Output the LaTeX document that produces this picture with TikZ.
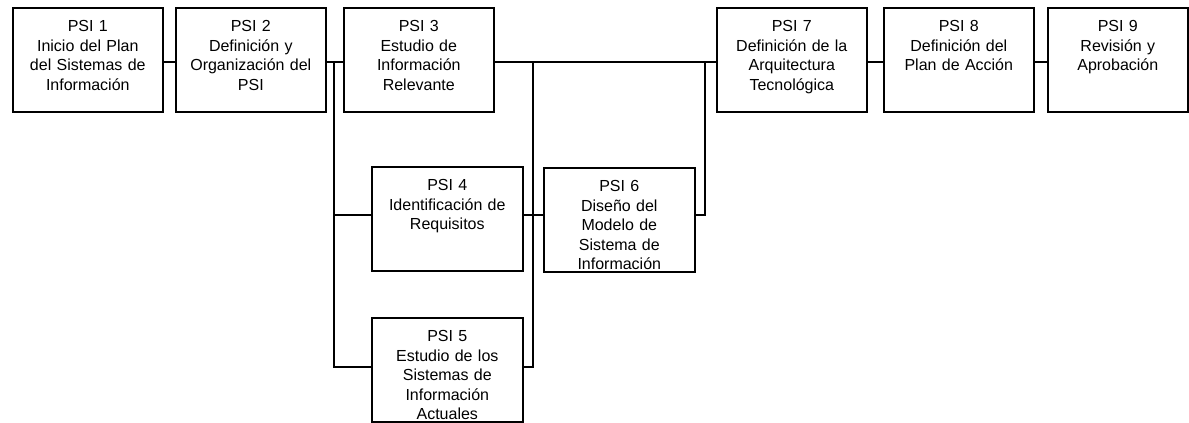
\documentclass[tikz,border=0pt]{standalone}
\usepackage{fontspec}
\setmainfont{Liberation Sans}
\tikzset{
	psibox/.style={draw, line width=1.2pt, anchor=north west, align=center,
		inner sep=0pt, text width=#1*0.75pt, text height=18pt, text depth=60pt,
		font=\fontsize{12pt}{14.6pt}\selectfont},
	psibox/.default=150,
	bus/.style={line width=1.2pt}
}
\begin{document}
\begin{tikzpicture}[x=0.75pt,y=-0.75pt]
	\useasboundingbox (0,0) rectangle (1189,423);
	% top row
	\node[psibox] (p1) at (12,7) {PSI 1\\Inicio del Plan\\del Sistemas de\\Información};
	\node[psibox] (p2) at (175,7) {PSI 2\\Definición y\\Organización del\\PSI};
	\node[psibox] (p3) at (343,7) {PSI 3\\Estudio de\\Información\\Relevante};
	\node[psibox] (p7) at (716,7) {PSI 7\\Definición de la\\Arquitectura\\Tecnológica};
	\node[psibox] (p8) at (883,7) {PSI 8\\Definición del\\Plan de Acción};
	\node[psibox=140] (p9) at (1047,7) {PSI 9\\Revisión y\\Aprobación};
	% lower boxes
	\node[psibox=151] (p4) at (371,166) {PSI 4\\Identificación de\\Requisitos};
	\node[psibox=151] (p5) at (371,317) {PSI 5\\Estudio de los\\Sistemas de\\Información\\Actuales};
	\node[psibox=151] (p6) at (543,167) {PSI 6\\Diseño del\\Modelo de\\Sistema de\\Información};
	% junctions
	\path (334,62) coordinate (ja)
		++ (0,153) coordinate (ka)
		++ (0,152) coordinate (la);
	\path (533,62) coordinate (jb)
		++ (0,153) coordinate (kb)
		++ (0,152) coordinate (lb);
	\path (705,62) coordinate (jc)
		++ (0,153) coordinate (kc);
	\draw[bus] (p1.east |- ja) -- (p2.west |- ja);
	\draw[bus] (p2.east |- ja) -- (p3.west |- ja);
	\draw[bus] (p3.east |- ja) -- (p7.west |- ja);
	\draw[bus] (p7.east |- ja) -- (p8.west |- ja);
	\draw[bus] (p8.east |- ja) -- (p9.west |- ja);
	\draw[bus] (ja) -- (la) -- (p5.west |- la);
	\draw[bus] (ka) -- (p4.west |- ka);
	\draw[bus] (p4.east |- kb) -- (kb);
	\draw[bus] (p5.east |- lb) -- (lb) -- (jb);
	\draw[bus] (kb) -- (p6.west |- kb);
	\draw[bus] (p6.east |- kc) -- (kc) -- (jc);
\end{tikzpicture}
\end{document}
